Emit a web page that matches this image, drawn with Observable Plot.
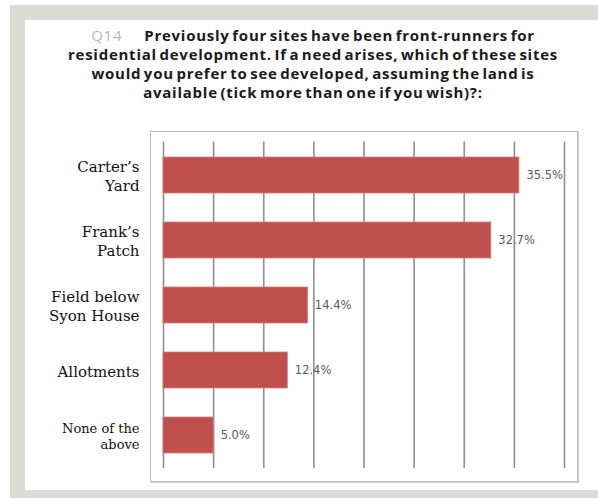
<!DOCTYPE html>
<html>
<head>
<meta charset="utf-8">
<script src="https://cdn.jsdelivr.net/npm/d3@7"></script>
<script src="https://cdn.jsdelivr.net/npm/@observablehq/plot@0.6"></script>
<style>
  html, body { margin: 0; padding: 0; background: #fff; }
  #wrap { position: relative; width: 598px; height: 498px; overflow: hidden; background: #fff; }
  .band { position: absolute; background: #dcdbd6; }
  #title { position: absolute; left: 0; top: 25.5px; width: 626px; text-align: center;
           font-family: "Open Sans", Lato, sans-serif; font-weight: 700; font-size: 15px;
           color: #1a1a1a; line-height: 19px; letter-spacing: 0.75px; word-spacing: -2px; }
  #title .q { color: #b5b5b5; font-weight: 400; margin-right: 22px; }
  #box { position: absolute; left: 150px; top: 131px; width: 426px; height: 349px;
         border: 1px solid #bdbdbd; box-shadow: 1px 1px 1px #cfcfcf; background: #fff; }
  #chart { position: absolute; left: 0; top: 130px; }
</style>
</head>
<body>
<div id="wrap">
  <div class="band" style="left:10px; top:5px; width:588px; height:15px;"></div>
  <div class="band" style="left:10px; top:5px; width:15px; height:493px;"></div>
  <div class="band" style="left:10px; top:490px; width:588px; height:8px;"></div>
  <div id="title">
    <div><span class="q">Q14</span>Previously four sites have been front-runners for</div>
    <div>residential development. If a need arises, which of these sites</div>
    <div>would you prefer to see developed, assuming the land is</div>
    <div>available (tick more than one if you wish)?:</div>
  </div>
  <div id="box"></div>
  <div id="chart"></div>
</div>
<script>
const categories = ["Carter’s Yard", "Frank’s Patch", "Field below Syon House", "Allotments", "None of the above"];
const labels = ["Carter’s\nYard", "Frank’s\nPatch", "Field below\nSyon House", "Allotments", "None of the\nabove"];
const values = [35.5, 32.7, 14.4, 12.4, 5.0];
const valueLabels = ["35.5%", "32.7%", "14.4%", "12.4%", "5.0%"];
const gridTicks = [0, 5, 10, 15, 20, 25, 30, 35, 40];

const data = categories.map((c, i) => ({cat: c, label: labels[i], value: values[i], vlabel: valueLabels[i]}));
const big = data.filter(d => d.cat !== "None of the above");
const small = data.filter(d => d.cat === "None of the above");

const chart = Plot.plot({
  width: 598,
  height: 360,
  marginLeft: 163,
  marginRight: 34,
  marginTop: 11.5,
  marginBottom: 22,
  style: {background: "transparent", overflow: "visible"},
  x: {domain: [0, 40], axis: null},
  y: {domain: categories, axis: null, paddingInner: 0.45, paddingOuter: 0.225},
  marks: [
    Plot.ruleX(gridTicks, {stroke: "#8f8f8f", strokeWidth: 1.6}),
    Plot.barX(data, {y: "cat", x: "value", fill: "#c0504d", stroke: "#d77a78", strokeWidth: 0.8}),
    Plot.text(data, {y: "cat", x: "value", text: "vlabel", textAnchor: "start", dx: 7,
      fontFamily: "DejaVu Sans, sans-serif", fontSize: 11.5, fill: "#5a5a5a", letterSpacing: "0.4px"}),
    Plot.text(big, {y: "cat", x: 0, text: "label", textAnchor: "end", dx: -24,
      fontFamily: "DejaVu Serif, serif", fontSize: 15, lineHeight: 1.3, fill: "#111"}),
    Plot.text(small, {y: "cat", x: 0, text: "label", textAnchor: "end", dx: -24,
      fontFamily: "DejaVu Serif, serif", fontSize: 13, lineHeight: 1.25, fill: "#111"})
  ]
});
document.getElementById("chart").appendChild(chart);
</script>
</body>
</html>
